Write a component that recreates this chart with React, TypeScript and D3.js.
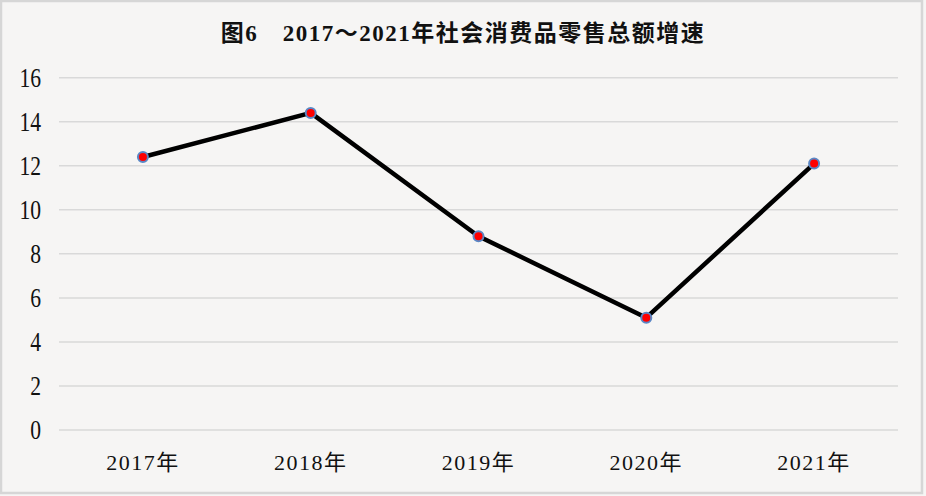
import { useEffect, useRef } from "react";
import * as d3 from "d3";

// 2017~2021 社会消费品零售总额增速 (%)
const years = ["2017年", "2018年", "2019年", "2020年", "2021年"];
const growth = [12.4, 14.4, 8.8, 5.1, 12.1];
const yTicks = [0, 2, 4, 6, 8, 10, 12, 14, 16];
const title = "图6\u30002017～2021年社会消费品零售总额增速";

const W = 926;
const H = 496;
const FONT = "'Liberation Serif', 'Noto Sans CJK SC', serif";

export default function App() {
  const ref = useRef<SVGSVGElement>(null);

  useEffect(() => {
    if (!ref.current) return;
    const svg = d3.select(ref.current);
    svg.selectAll("*").remove();

    const margin = { left: 59, right: 28, top: 77.7, bottom: 66 };
    const x = d3
      .scaleBand<string>()
      .domain(years)
      .range([margin.left, W - margin.right]);
    const y = d3
      .scaleLinear()
      .domain([0, 16])
      .range([H - margin.bottom, margin.top]);

    // paper background + frame
    svg.append("rect").attr("width", W).attr("height", H).attr("fill", "#f6f5f4");
    svg
      .append("rect")
      .attr("x", 1)
      .attr("y", 1)
      .attr("width", W - 5)
      .attr("height", H - 4)
      .attr("fill", "none")
      .attr("stroke", "#d6d6d6")
      .attr("stroke-width", 2.5);

    svg
      .append("text")
      .attr("x", 463)
      .attr("y", 41)
      .attr("text-anchor", "middle")
      .attr("font-family", FONT)
      .attr("font-size", 23)
      .attr("font-weight", "bold")
      .attr("letter-spacing", 1.5)
      .attr("fill", "#111")
      .text(title);

    // gridlines
    svg
      .append("g")
      .selectAll("line")
      .data(yTicks)
      .join("line")
      .attr("x1", margin.left)
      .attr("x2", W - margin.right)
      .attr("y1", (d) => y(d))
      .attr("y2", (d) => y(d))
      .attr("stroke", "#d9d9d9")
      .attr("stroke-width", 1.5);

    // y labels (slightly tall, narrow digits as in the source)
    svg
      .append("g")
      .selectAll("text")
      .data(yTicks)
      .join("text")
      .attr("transform", (d) => `translate(41,${y(d) + 9}) scale(0.9,1.1)`)
      .attr("text-anchor", "end")
      .attr("font-family", FONT)
      .attr("font-size", 24)
      .attr("fill", "#111")
      .text((d) => d);

    // x labels
    svg
      .append("g")
      .selectAll("text")
      .data(years)
      .join("text")
      .attr("x", (d) => x(d)! + x.bandwidth() / 2)
      .attr("y", 470)
      .attr("text-anchor", "middle")
      .attr("font-family", FONT)
      .attr("font-size", 22)
      .attr("letter-spacing", 1.5)
      .attr("fill", "#111")
      .text((d) => d);

    const pts = years.map((d, i) => [x(d)! + x.bandwidth() / 2, y(growth[i])] as [number, number]);

    svg
      .append("path")
      .attr("d", d3.line()(pts))
      .attr("fill", "none")
      .attr("stroke", "#000")
      .attr("stroke-width", 4.5)
      .attr("stroke-linejoin", "round");

    svg
      .append("g")
      .selectAll("circle")
      .data(pts)
      .join("circle")
      .attr("cx", (d) => d[0])
      .attr("cy", (d) => d[1])
      .attr("r", 5)
      .attr("fill", "#ff0000")
      .attr("stroke", "#5b87c5")
      .attr("stroke-width", 2);
  }, []);

  return (
    <div style={{ position: "absolute", left: 0, top: 0 }}>
      <svg ref={ref} width={W} height={H} style={{ display: "block" }} />
    </div>
  );
}
